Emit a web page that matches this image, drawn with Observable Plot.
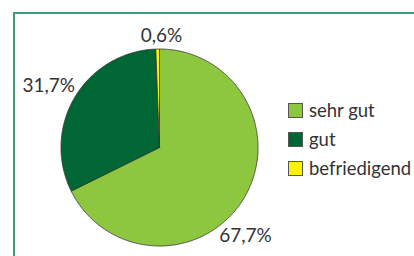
<!DOCTYPE html>
<html>
<head>
<meta charset="utf-8">
<script src="https://cdn.jsdelivr.net/npm/d3@7"></script>
<script src="https://cdn.jsdelivr.net/npm/@observablehq/plot@0.6"></script>
<style>
  html, body { margin: 0; padding: 0; background: #fff; }
  #wrap { position: relative; width: 414px; height: 256px; overflow: hidden; font-family: Lato, "Open Sans", sans-serif; }
  #frame { position: absolute; left: 13px; top: 12px; width: 500px; height: 400px; border-top: 2px solid #3f9a78; border-left: 2px solid #3f9a78; }
  #chart { position: absolute; left: 0; top: 0; }
  #legend { position: absolute; left: 288px; top: 95.5px; font-size: 18.5px; color: #333; }
  .row { display: flex; align-items: center; height: 29px; }
  .sw { width: 13px; height: 13px; border: 1px solid #555; margin-right: 6px; box-sizing: content-box; }
</style>
</head>
<body>
<div id="wrap">
  <div id="frame"></div>
  <div id="chart"></div>
  <div id="legend"></div>
</div>
<script>
const categories = ["sehr gut", "gut", "befriedigend"];
const values = [67.7, 31.7, 0.6];
const labels = ["67,7%", "31,7%", "0,6%"];
const colors = ["#8dc63f", "#006633", "#fff200"];
// label anchor positions in unit-circle coordinates
const labelX = [0.873, -1.124, 0.02];
const labelY = [-0.893, 0.63, 1.137];

const data = categories.map((c, i) => ({name: c, value: values[i]}));
const arcs = d3.pie().sort(null).value(d => d.value)(data);

const pts = [];
arcs.forEach(a => {
  const n = Math.max(4, Math.ceil((a.endAngle - a.startAngle) / 0.01));
  pts.push({name: a.data.name, x: 0, y: 0});
  for (let k = 0; k <= n; k++) {
    const t = a.startAngle + (a.endAngle - a.startAngle) * k / n;
    pts.push({name: a.data.name, x: Math.sin(t), y: Math.cos(t)});
  }
  pts.push({name: a.data.name, x: 0, y: 0});
});

const labelData = labels.map((l, i) => ({text: l, x: labelX[i], y: labelY[i]}));

const cx = 159, cy = 147, r = 98.5;
const plot = Plot.plot({
  width: 414,
  height: 256,
  margin: 0,
  x: {domain: [-1, 1], range: [cx - r, cx + r], axis: null},
  y: {domain: [-1, 1], range: [cy + r, cy - r], axis: null},
  color: {domain: categories, range: colors},
  style: {background: "transparent", fontFamily: "Lato, 'Open Sans', sans-serif"},
  marks: [
    Plot.line(pts, {x: "x", y: "y", z: "name", fill: "name", stroke: "#333", strokeWidth: 0.8, curve: "linear-closed"}),
    Plot.text(labelData, {x: "x", y: "y", text: "text", fontSize: 19, fill: "#333"})
  ]
});
document.getElementById("chart").appendChild(plot);

const legend = document.getElementById("legend");
categories.forEach((c, i) => {
  const row = document.createElement("div");
  row.className = "row";
  const sw = document.createElement("div");
  sw.className = "sw";
  sw.style.background = colors[i];
  const tx = document.createElement("span");
  tx.textContent = c;
  row.appendChild(sw);
  row.appendChild(tx);
  legend.appendChild(row);
});
</script>
</body>
</html>
